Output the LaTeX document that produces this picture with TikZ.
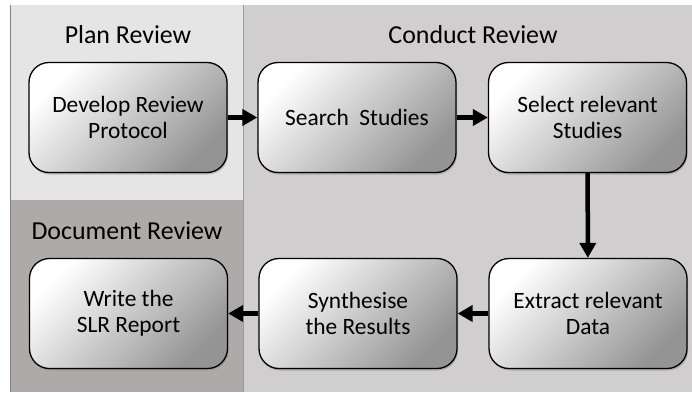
\documentclass[tikz,border=0pt]{standalone}
\usepackage{fontspec}
\setmainfont{Carlito}
\usetikzlibrary{arrows.meta,shadows}

\definecolor{planbg}{HTML}{E5E5E5}
\definecolor{conductbg}{HTML}{D0CECF}
\definecolor{docbg}{HTML}{AEAAAA}

\tikzset{
  stagebox/.style={draw=black,line width=1.3bp,rounded corners=20bp,
    minimum width=198bp,minimum height=110bp,align=center,
    top color=white,bottom color=black!42,shading angle=45,
    drop shadow={shadow xshift=1bp,shadow yshift=-2bp,opacity=0.45},
    font=\fontsize{23.5}{26}\selectfont},
  phase/.style={font=\fontsize{26}{30}\selectfont,anchor=base},
  flow/.style={line width=4.5bp,-{Triangle[length=15bp,width=16bp]}}
}

\begin{document}
\begin{tikzpicture}[x=1bp,y=-1bp]
        \useasboundingbox (0,0) rectangle (692,392) ;
        % phase backgrounds
        \fill[planbg] (10,5) rectangle (243,200) ;
        \fill[docbg] (10,200) rectangle (243,392) ;
        \fill[conductbg] (243,5) rectangle (692,392) ;
        \draw[very thin,gray] (10,5) -- (10,392) ;
        \draw[thin,gray!80] (243,5) -- (243,392) ;
        % phase titles
        \node[phase] (plan) at (128,43.5) {Plan Review} ;
        \node[phase] (conduct) at (473,43.5) {Conduct Review} ;
        \node[phase] (docrev) at (127,239) {Document Review} ;
        % steps
        \node[stagebox] (develop) at (128,117.5) {Develop Review\\Protocol} ;
        \node[stagebox] (search) at (357,117.5) {Search~~Studies} ;
        \node[stagebox] (select) at (587.5,117.5) {Select relevant\\Studies} ;
        \node[stagebox] (extract) at (588,313.5) {Extract relevant\\Data} ;
        \node[stagebox] (synth) at (358,313.5) {Synthesise\\the Results} ;
        \node[stagebox] (write) at (128.5,313.5) {Write the\\SLR Report} ;
        % arrows
        \draw[flow] (develop) -- (search) ;
        \draw[flow] (search) -- (select) ;
        \draw[flow] (select) -- (extract) ;
        \draw[flow] (extract) -- (synth) ;
        \draw[flow] (synth) -- (write) ;
\end{tikzpicture}
\end{document}
